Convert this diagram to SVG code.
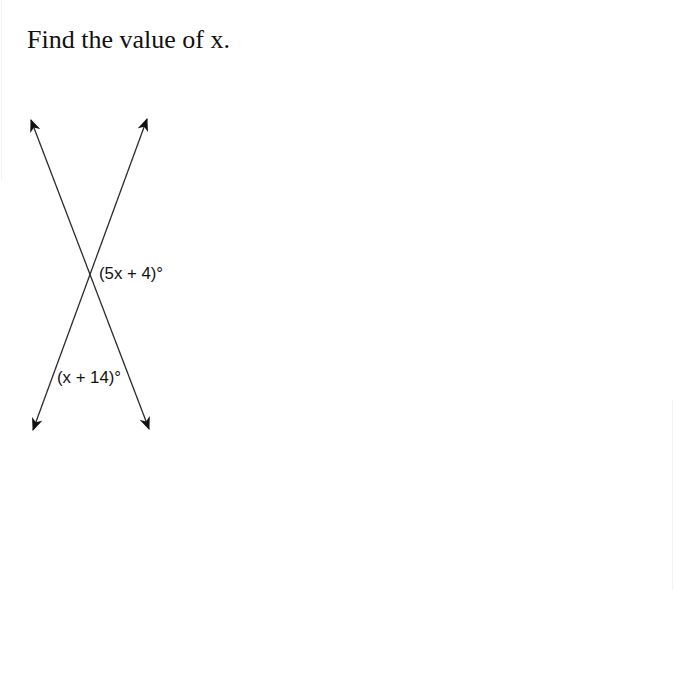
<svg xmlns="http://www.w3.org/2000/svg" width="674" height="700" viewBox="0 0 674 700">
<defs>
<style>
.ln{stroke:#2b2b2b;stroke-width:1.3;fill:none}
.lbl{font-family:"Liberation Sans",Arial,sans-serif;font-size:16.8px;fill:#111}
.title{font-family:"Liberation Serif","Times New Roman",serif;font-size:26px;fill:#111}
</style>
<marker id="ah" viewBox="0 0 12 10" refX="11" refY="5" markerWidth="13" markerHeight="11" markerUnits="userSpaceOnUse" orient="auto-start-reverse">
<path d="M0,0 L12,5 L0,10 L3.5,5 z" fill="#111"/>
</marker>
</defs>
<rect width="674" height="700" fill="#fff"/>
<line x1="1.5" y1="0" x2="1.5" y2="180" stroke="#f3f3f3" stroke-width="1"/>
<line x1="672.5" y1="400" x2="672.5" y2="590" stroke="#f0f3f3" stroke-width="1"/>
<text class="title" x="27" y="48">Find the value of x.</text>
<g id="lines">
<line class="ln" x1="31" y1="120" x2="149" y2="429" marker-start="url(#ah)" marker-end="url(#ah)"/>
<line class="ln" x1="147" y1="119" x2="33" y2="430" marker-start="url(#ah)" marker-end="url(#ah)"/>
</g>
<g id="labels">
<text class="lbl" x="99" y="279">(5x + 4)°</text>
<text class="lbl" x="57" y="383">(x + 14)°</text>
</g>
</svg>
